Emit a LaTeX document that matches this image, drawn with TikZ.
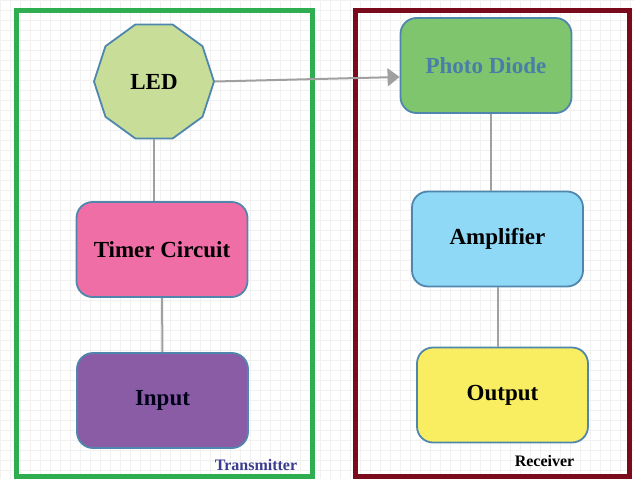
\documentclass[tikz,border=0pt]{standalone}
\usepackage{fontspec}
\setmainfont{Liberation Serif}
\usetikzlibrary{shapes.geometric,arrows.meta}
\definecolor{gridc}{HTML}{F1F1F1}
\definecolor{txframe}{HTML}{2EAE50}
\definecolor{rxframe}{HTML}{7A0A1C}
\definecolor{edgeblue}{HTML}{4F86AE}
\definecolor{ledfill}{HTML}{C8DE98}
\definecolor{timerfill}{HTML}{F06EA6}
\definecolor{inputfill}{HTML}{8A5CA6}
\definecolor{photofill}{HTML}{7EC56E}
\definecolor{phototext}{HTML}{4A7EA8}
\definecolor{ampfill}{HTML}{8FD9F6}
\definecolor{outfill}{HTML}{F9EE62}
\definecolor{linkc}{HTML}{A0A0A0}
\definecolor{txlabel}{HTML}{3C3C8E}
\tikzset{
  blockbox/.style={draw=edgeblue, line width=1.8pt, rounded corners=16pt,
    minimum width=171pt, minimum height=95pt, inner sep=0pt,
    font=\fontsize{23}{26}\selectfont\bfseries},
  ledshape/.style={regular polygon, regular polygon sides=10, draw=edgeblue,
    line width=1.8pt, fill=ledfill, minimum size=120pt, inner sep=0pt,
    font=\fontsize{23}{26}\selectfont\bfseries},
  link/.style={draw=linkc, line width=2pt},
  framebox/.style={line width=5pt},
  caption/.style={font=\fontsize{16}{18}\selectfont\bfseries, inner sep=0pt}
}
\begin{document}
\begin{tikzpicture}[x=1pt,y=-1pt]
\useasboundingbox (0,0) rectangle (634,479);
\fill[white] (0,0) rectangle (634,479);
\draw[gridc, line width=0.5pt] (0,0) grid[step=10pt] (634,479);
\draw[framebox, txframe] (16,10.5) rectangle (312,476.5);
\draw[framebox, rxframe] (355.5,10.5) rectangle (629.5,476.5);
\node[ledshape] (led) at (154,81.5) {LED};
\node[blockbox, fill=timerfill] (timer) at (162,249.5) {Timer Circuit};
\node[blockbox, fill=inputfill, text=black!90!blue] (input) at (162.5,400.5) {Input};
\node[blockbox, fill=photofill, text=phototext] (photo) at (486,65.5) {Photo Diode};
\node[blockbox, fill=ampfill] (amp) at (497.5,239) {Amplifier};
\node[blockbox, fill=outfill] (out) at (502.5,395) {Output};
\node[caption, text=txlabel] (txl) at (256,465) {Transmitter};
\node[caption] (rxl) at (544.5,461) {Receiver};
\draw[link] (led.south) -- (led.south |- timer.north);
\draw[link] (timer.south) -- (input.north);
\draw[link] (photo.south -| amp.north) ++(-7,0) -- ([xshift=-7pt]amp.north);
\draw[link] (amp.south) -- (amp.south |- out.north);
\draw[link, -{Triangle[length=12pt,width=18pt]}] (led.east) -- ([yshift=-11.5pt]photo.west);
\end{tikzpicture}
\end{document}
